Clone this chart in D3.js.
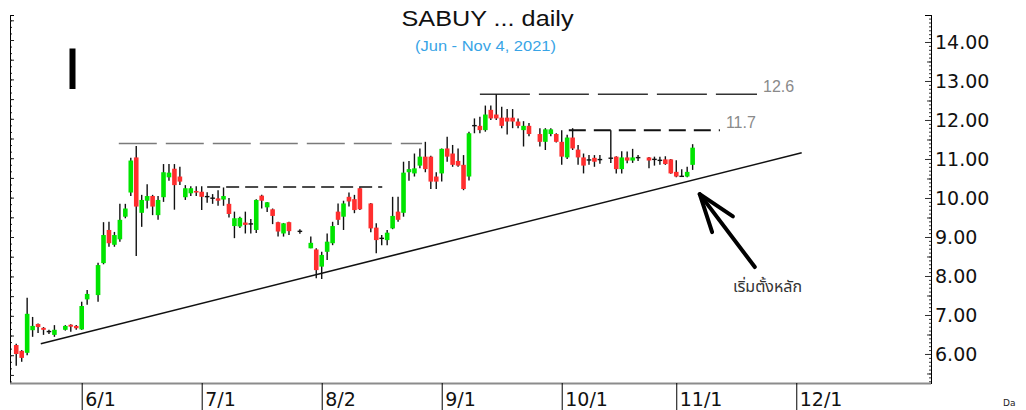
<!DOCTYPE html>
<html><head><meta charset="utf-8">
<script src="https://cdn.jsdelivr.net/npm/d3@7"></script>
<style>html,body{margin:0;padding:0;background:#fff;overflow:hidden}</style>
</head><body><svg id="c" width="1026" height="410"></svg>
<script>
// ---- data ----
const dates = ["05-14","05-17","05-18","05-19","05-20","05-21","05-24","05-25","05-27","05-28","05-31",
"06-01","06-02","06-04","06-07","06-08","06-09","06-10","06-11","06-14","06-15","06-16","06-17","06-18","06-21","06-22","06-23","06-24","06-25","06-28","06-29","06-30",
"07-01","07-02","07-05","07-06","07-07","07-08","07-09","07-12","07-13","07-14","07-15","07-16","07-19","07-20","07-21","07-22","07-23","07-27","07-29","07-30",
"08-02","08-03","08-04","08-05","08-06","08-09","08-10","08-11","08-13","08-16","08-17","08-18","08-19","08-20","08-23","08-24","08-25","08-26","08-27","08-30","08-31",
"09-01","09-02","09-03","09-06","09-07","09-08","09-09","09-10","09-13","09-14","09-15","09-16","09-17","09-20","09-21","09-22","09-23","09-27","09-28","09-29","09-30",
"10-01","10-04","10-05","10-06","10-07","10-08","10-11","10-12","10-14","10-15","10-18","10-19","10-20","10-21","10-25","10-26","10-27","10-28","10-29",
"11-01","11-02","11-03","11-04"];
const open = [6.23,6.08,6.03,6.61,6.77,6.67,6.58,6.49,6.62,6.75,6.72,
6.63,7.40,7.51,8.33,9.18,8.80,8.94,9.52,10.14,11.04,9.62,9.93,10.05,9.56,10.02,10.53,10.75,10.55,10.02,10.12,10.18,
10.16,10.04,10.00,9.99,9.96,9.85,9.28,9.27,9.37,9.34,9.18,10.06,9.76,9.71,9.38,9.09,9.38,9.15,8.71,8.68,
8.24,8.62,8.84,9.65,9.52,10.03,9.97,10.25,9.86,9.24,8.97,8.92,9.22,9.65,9.62,10.66,10.63,10.83,11.06,11.06,10.55,
10.63,11.27,11.14,10.95,10.85,10.55,11.85,11.85,11.74,12.26,12.14,12.06,12.06,12.06,11.96,11.74,11.85,11.64,11.44,11.64,11.64,
11.44,11.04,11.55,11.24,11.04,10.98,11.03,10.98,11.03,11.06,10.74,11.04,10.96,11.03,11.04,11.00,10.96,10.99,10.99,
10.67,10.55,10.55,10.85];
const high = [6.26,6.10,7.44,6.95,6.78,6.69,6.62,6.74,6.74,6.76,6.74,
7.34,7.64,8.34,9.38,9.39,9.13,9.85,9.85,11.03,11.33,10.08,10.35,10.08,10.05,10.87,10.87,10.87,10.80,10.33,10.30,10.30,
10.30,10.15,10.10,10.20,10.27,10.00,9.65,9.52,9.65,9.46,9.97,10.08,9.90,9.73,9.39,9.36,9.39,9.20,9.01,8.71,
8.62,9.09,9.39,9.86,9.93,10.14,10.08,10.27,9.87,9.35,9.05,9.18,10.03,10.03,10.93,10.95,11.14,11.27,11.44,11.08,10.66,
11.27,11.57,11.36,11.27,11.10,11.70,12.04,12.08,12.37,12.37,12.66,12.34,12.28,12.28,12.04,11.97,11.92,11.79,11.79,11.79,11.66,
11.74,11.62,11.79,11.36,11.14,11.10,11.10,11.10,11.74,11.07,11.20,11.19,11.26,11.10,11.05,11.06,11.06,11.07,11.00,
10.97,10.74,10.80,11.38];
const low = [5.70,5.80,5.97,6.44,6.54,6.49,6.51,6.44,6.60,6.57,6.62,
6.62,7.26,7.34,8.30,8.75,8.75,8.88,9.48,10.05,8.51,9.26,9.73,9.56,9.44,9.90,10.44,9.70,10.33,9.95,10.05,10.05,
9.69,9.88,9.85,9.80,9.80,9.50,8.97,9.23,9.09,9.09,9.10,9.73,9.64,9.33,9.01,9.01,9.05,9.08,8.71,7.94,
7.92,8.41,8.79,9.31,9.18,9.78,9.61,9.69,9.12,8.58,8.79,8.79,9.20,9.39,9.52,10.44,10.55,10.76,10.66,10.23,10.23,
10.42,10.93,10.80,10.80,10.20,10.45,11.66,11.66,11.70,12.00,12.00,11.79,11.63,11.79,11.79,11.32,11.58,11.32,11.23,11.58,11.42,
10.85,11.00,11.23,10.85,10.63,10.85,10.80,10.88,10.90,10.63,10.63,10.89,10.90,10.95,10.76,10.83,10.85,10.85,10.62,
10.53,10.54,10.53,10.72];
const close = [6.00,5.90,7.03,6.72,6.69,6.62,6.57,6.62,6.72,6.70,6.66,
7.23,7.54,8.28,9.05,8.84,9.05,9.44,9.73,10.96,9.78,9.95,10.05,9.78,9.95,10.66,10.65,10.33,10.42,10.25,10.25,10.14,
10.03,10.03,9.99,9.93,10.05,9.59,9.48,9.49,9.31,9.33,9.95,9.93,9.89,9.54,9.14,9.35,9.15,9.14,8.85,8.15,
8.54,8.88,9.28,9.44,9.86,9.91,9.69,9.71,9.22,8.92,8.96,9.11,9.54,9.44,10.65,10.74,10.76,11.06,10.74,10.42,10.42,
11.26,11.06,10.85,10.83,10.23,11.66,11.86,11.74,12.14,12.04,12.04,11.85,11.96,11.96,11.85,11.85,11.64,11.44,11.76,11.76,11.44,
11.06,11.55,11.27,11.04,10.83,10.97,10.93,10.99,11.01,10.74,11.04,10.96,11.04,11.04,10.96,10.98,10.97,10.87,10.63,
10.55,10.56,10.67,11.29];

const monthTickDates = ["06-01","07-01","08-02","09-01","10-01","11-01","12-01"];
const monthTickLabels = ["6/1","7/1","8/2","9/1","10/1","11/1","12/1"];
const priceTicks = [6,7,8,9,10,11,12,13,14];

// resistance levels (value, start/end in weekday index)
const levelValues = [11.40, 10.28, 12.66, 11.74];
const levelFrom   = [18.8, 35.0, 85.0, 101.3];
const levelTo     = [74.4, 67.1, 135.8, 129.0];
const levelLabels = ["", "", "12.6", "11.7"];

// trend line endpoints (weekday index, price)
const trendIdx = [4.5, 144.0];
const trendVal = [6.26, 11.16];
// arrow annotation (tail -> head)
const arrowIdx = [135.4, 125.3];
const arrowVal = [8.23, 10.10];
const noteText = "เริ่มตั้งหลัก";

// ---- helpers ----
const parse = s => new Date(Date.UTC(2021, +s.slice(0,2)-1, +s.slice(3)));
const origin = parse(dates[0]);
const wd = s => d3.utcDay.range(origin, parse(s)).filter(d => d.getUTCDay() % 6 !== 0).length;

const svg = d3.select("#c");
const L = 10, R = 931, T = 15, B = 383;
const x = d3.scaleLinear().domain([-1.144, 167.7]).range([L, R]);
const y = d3.scaleLinear().domain([5.256, 14.692]).range([B, T]);

svg.append("rect").attr("width",1026).attr("height",410).attr("fill","#fff");

// Title
svg.append("text").attr("x",487.5).attr("y",26).attr("text-anchor","middle")
  .attr("font-family","'Liberation Sans', Arial, sans-serif").attr("font-size",22).attr("fill","#111")
  .attr("textLength",172).attr("lengthAdjust","spacingAndGlyphs").text("SABUY ... daily");
svg.append("text").attr("x",485.5).attr("y",50.5).attr("text-anchor","middle")
  .attr("font-family","'Liberation Sans', Arial, sans-serif").attr("font-size",14).attr("fill","#38a4e6")
  .attr("textLength",141).attr("lengthAdjust","spacingAndGlyphs").text("(Jun - Nov 4, 2021)");

// cursor-like bar
svg.append("rect").attr("x",69.5).attr("y",48.5).attr("width",6).attr("height",40.5).attr("fill","#000");

// Left axis (ticks only)
const leftScale = d3.scaleLinear().domain([-1.269, 17.41]).range([T, B]);
const lMinor = d3.range(-1, 17.5, 1/3).filter(v => leftScale(v) >= T && leftScale(v) <= B);
const lAx = svg.append("g").attr("transform",`translate(${L},0)`);
lAx.call(d3.axisRight(leftScale).tickValues(lMinor).tickSize(2).tickFormat(""));
lAx.append("g").call(d3.axisRight(leftScale).tickValues(d3.range(-1,18)).tickSize(4).tickFormat(""));
lAx.selectAll("path").attr("stroke","#000");
lAx.selectAll("line").attr("stroke","#222");

// Right axis
const rAx = svg.append("g").attr("transform",`translate(${R},0)`);
const minorP = d3.range(53, 147).map(v => v/10);
rAx.append("g").call(d3.axisLeft(y).tickValues(minorP).tickSize(2).tickFormat(""));
rAx.append("g").call(d3.axisLeft(y).tickValues(d3.range(11,29).map(v=>v/2)).tickSize(4).tickFormat(""));
rAx.append("g").call(d3.axisLeft(y).tickValues(priceTicks).tickSize(6).tickFormat(""));
const rLab = rAx.append("g").call(d3.axisRight(y).tickValues(priceTicks).tickSize(0).tickPadding(4).tickFormat(d3.format(".2f")));
rLab.select(".domain").remove();
rLab.selectAll("text").attr("font-family","'DejaVu Sans', Verdana, sans-serif").attr("font-size",19).attr("fill","#111");
rAx.selectAll(".domain").attr("stroke","#000");
rAx.selectAll("line").attr("stroke","#333");

// Bottom axis
svg.append("line").attr("x1",L).attr("x2",R).attr("y1",B+0.5).attr("y2",B+0.5).attr("stroke","#8c8c8c").attr("stroke-width",2);
const bAx = svg.append("g").attr("transform",`translate(0,${B})`);
bAx.call(d3.axisBottom(x).tickValues(monthTickDates.map(wd)).tickSize(27).tickPadding(0)
  .tickFormat((d,i) => monthTickLabels[i]));
bAx.select(".domain").remove();
bAx.selectAll("line").attr("stroke","#000");
bAx.selectAll("text").attr("text-anchor","start").attr("dx",3).attr("dy",0).attr("y",23)
  .attr("font-family","'DejaVu Sans', Verdana, sans-serif").attr("font-size",19).attr("fill","#111");
svg.append("text").attr("x",1003).attr("y",406).attr("font-family","'DejaVu Sans', sans-serif")
  .attr("font-size",9).attr("fill","#222").text("Da");

// Resistance levels
const levelStyle = [
  {stroke:"#7a7a7a", w:1.5, dash:"38,9"},
  {stroke:"#111", w:1.6, dash:"13,6"},
  {stroke:"#333", w:1.4, dash:"50,9"},
  {stroke:"#111", w:2, dash:"17,8"}
];
levelValues.forEach((v,i) => {
  svg.append("line").attr("x1",x(levelFrom[i])).attr("x2",x(levelTo[i]))
    .attr("y1",y(v)).attr("y2",y(v)).attr("stroke",levelStyle[i].stroke)
    .attr("stroke-width",levelStyle[i].w).attr("stroke-dasharray",levelStyle[i].dash);
  if (levelLabels[i]) {
    svg.append("text").attr("x",x(levelTo[i])+6).attr("y",y(v)-2.5)
      .attr("font-family","'Liberation Sans', Arial, sans-serif").attr("font-size",16).attr("fill","#8a8a8a")
      .text(levelLabels[i]);
  }
});

// Trend line
svg.append("line").attr("x1",x(trendIdx[0])).attr("y1",y(trendVal[0]))
  .attr("x2",x(trendIdx[1])).attr("y2",y(trendVal[1])).attr("stroke","#111").attr("stroke-width",1.6);

// Candles
const data = dates.map((d,i) => ({i: wd(d), o: open[i], h: high[i], l: low[i], c: close[i]}));
const bw = 4.6;
const g = svg.append("g");
g.selectAll("line.w").data(data).join("line").attr("class","w")
  .attr("x1",d=>x(d.i)).attr("x2",d=>x(d.i)).attr("y1",d=>y(d.h)).attr("y2",d=>y(d.l))
  .attr("stroke","#111").attr("stroke-width",1.4);
g.selectAll("rect.b").data(data).join("rect").attr("class","b")
  .attr("x",d=>x(d.i)-bw/2).attr("width",bw)
  .attr("y",d=> Math.abs(d.c-d.o)<0.025 ? y((d.o+d.c)/2)-0.7 : y(Math.max(d.o,d.c)))
  .attr("height",d=> Math.abs(d.c-d.o)<0.025 ? 1.4 : Math.max(1.4, y(Math.min(d.o,d.c))-y(Math.max(d.o,d.c))))
  .attr("fill",d=> Math.abs(d.c-d.o)<0.025 ? "#111" : (d.c>d.o ? "#00e400" : "#ff2e2e"));

// Arrow
const ax0 = x(arrowIdx[0]), ay0 = y(arrowVal[0]), ax1 = x(arrowIdx[1]), ay1 = y(arrowVal[1]);
const ang = Math.atan2(ay0-ay1, ax0-ax1);
const hl = 40, spread = 19*Math.PI/180;
const p1 = [ax1 + hl*Math.cos(ang+spread), ay1 + hl*Math.sin(ang+spread)];
const p2 = [ax1 + hl*Math.cos(ang-spread), ay1 + hl*Math.sin(ang-spread)];
svg.append("line").attr("x1",ax0).attr("y1",ay0).attr("x2",ax1).attr("y2",ay1)
  .attr("stroke","#000").attr("stroke-width",4).attr("stroke-linecap","round");
svg.append("path").attr("d",d3.line()([p1,[ax1,ay1],p2])).attr("fill","none")
  .attr("stroke","#000").attr("stroke-width",4).attr("stroke-linecap","round").attr("stroke-linejoin","round");
svg.append("text").attr("x",733).attr("y",292)
  .attr("font-family","'Noto Sans Thai', 'Noto Sans Thai UI', Tahoma, 'Noto Sans', sans-serif")
  .attr("font-size",16).attr("fill","#333").text(noteText);
</script></body></html>
